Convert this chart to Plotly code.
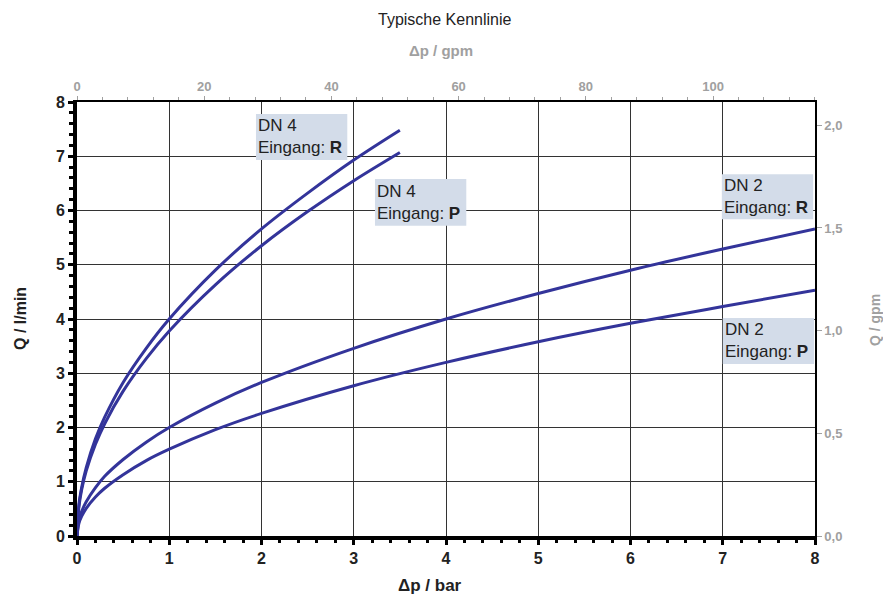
import plotly.graph_objects as go

# ---- data ----
dp_dn4 = [0, 0.02, 0.05, 0.1, 0.2, 0.3, 0.5, 0.75, 1.0, 1.5, 2.0, 2.5, 3.0, 3.5]
q_dn4_r = [0, 0.57, 0.89, 1.26, 1.79, 2.19, 2.83, 3.46, 4.0, 4.9, 5.66, 6.32, 6.93, 7.48]
q_dn4_p = [0, 0.53, 0.85, 1.20, 1.69, 2.07, 2.67, 3.27, 3.78, 4.63, 5.35, 5.98, 6.55, 7.07]

dp_dn2 = [0, 0.02, 0.05, 0.1, 0.2, 0.3, 0.5, 0.75, 1, 1.5, 2, 3, 4, 5, 6, 7, 8]
q_dn2_r = [0, 0.28, 0.45, 0.63, 0.89, 1.10, 1.41, 1.73, 2.0, 2.45, 2.83, 3.46, 4.0, 4.47, 4.90, 5.29, 5.66]
q_dn2_p = [0, 0.23, 0.36, 0.51, 0.72, 0.88, 1.13, 1.39, 1.6, 1.96, 2.26, 2.77, 3.2, 3.58, 3.92, 4.23, 4.53]

bar_ticks = [0, 1, 2, 3, 4, 5, 6, 7, 8]
lmin_ticks = [0, 1, 2, 3, 4, 5, 6, 7, 8]
psi_ticks = [0, 20, 40, 60, 80, 100]
gpm_tickvals = [0, 0.5, 1.0, 1.5, 2.0]
gpm_ticktext = ["0,0", "0,5", "1,0", "1,5", "2,0"]

labels = [
    ("DN 4<br>Eingang: <b>R</b>", 1.94, 2.93, 7.78, 6.93),
    ("DN 4<br>Eingang: <b>P</b>", 3.23, 4.22, 6.58, 5.72),
    ("DN 2<br>Eingang: <b>R</b>", 6.99, 7.98, 6.67, 5.84),
    ("DN 2<br>Eingang: <b>P</b>", 7.00, 7.99, 4.02, 3.17),
]

BAR_TO_PSI = 14.5038
LMIN_TO_GPM = 1 / 3.78541

LINE = "#33349a"
BOX = "#d3dce9"
GRAY = "#a0a0a0"
DARK = "#222222"
FONT = "Arial, Liberation Sans, sans-serif"

fig = go.Figure()
for xs, ys in [(dp_dn4, q_dn4_r), (dp_dn4, q_dn4_p), (dp_dn2, q_dn2_r), (dp_dn2, q_dn2_p)]:
    fig.add_trace(go.Scatter(x=xs, y=ys, mode="lines", line=dict(color=LINE, width=3, shape="spline"),
                             showlegend=False, hoverinfo="skip"))

# invisible trace to activate the secondary axes
fig.add_trace(go.Scatter(x=[0], y=[0], xaxis="x2", yaxis="y2", mode="markers",
                         marker=dict(opacity=0), showlegend=False, hoverinfo="skip"))

# page body has an 8px offset -> figure 883x589, plot area at page px 77..815 x 102..536
fig.update_layout(
    width=883, height=589,
    margin=dict(l=69, r=76, t=94, b=61),
    paper_bgcolor="white", plot_bgcolor="white",
    font=dict(family=FONT),
    xaxis=dict(range=[0, 8], tickvals=bar_ticks, showgrid=True, gridcolor="#333333", gridwidth=1,
               zeroline=False, showline=True, linecolor="black", linewidth=4,
               ticks="outside", ticklen=5, tickwidth=3, tickcolor="black",
               minor=dict(dtick=0.2, ticks="outside", ticklen=3, tickwidth=3, tickcolor="black", showgrid=False),
               tickfont=dict(size=16, color=DARK, family=FONT, weight="bold"), fixedrange=True),
    yaxis=dict(range=[0, 8], tickvals=lmin_ticks, showgrid=True, gridcolor="#333333", gridwidth=1,
               zeroline=False, showline=True, linecolor="black", linewidth=4,
               ticks="outside", ticklen=5, tickwidth=3, tickcolor="black",
               minor=dict(dtick=0.2, ticks="outside", ticklen=4, tickwidth=3, tickcolor="black", showgrid=False),
               tickfont=dict(size=16, color=DARK, family=FONT, weight="bold"), fixedrange=True),
    xaxis2=dict(range=[0, 8 * BAR_TO_PSI], overlaying="x", side="top", anchor="y",
                tickvals=psi_ticks, showgrid=False, zeroline=False, showline=True,
                linecolor="black", linewidth=1.5, ticks="outside", ticklen=4, tickwidth=1, tickcolor=GRAY,
                minor=dict(dtick=4, ticks="outside", ticklen=3, tickwidth=1, tickcolor=GRAY),
                tickfont=dict(size=13, color=GRAY, family=FONT, weight="bold"), fixedrange=True),
    yaxis2=dict(range=[0, 8 * LMIN_TO_GPM], overlaying="y", side="right", anchor="x",
                tickvals=gpm_tickvals, ticktext=gpm_ticktext, showgrid=False, zeroline=False,
                showline=True, linecolor="black", linewidth=1.5, ticks="outside", ticklen=5,
                tickwidth=1, tickcolor=GRAY,
                tickfont=dict(size=13, color=GRAY, family=FONT, weight="bold"), fixedrange=True),
)

shapes = []
annotations = []
for text, x0, x1, y0, y1 in labels:
    shapes.append(dict(type="rect", xref="x", yref="y", x0=x0, x1=x1, y0=y1, y1=y0,
                       fillcolor=BOX, line=dict(width=0), layer="above"))
    annotations.append(dict(text=text, xref="x", yref="y", x=x0, y=(y0 + y1) / 2,
                            xanchor="left", yanchor="middle", align="left", showarrow=False,
                            font=dict(size=17, color=DARK, family=FONT)))


def px(xp):
    return (xp - 77) / 738


def py(yp):
    return (536 - yp) / 434


def centered(text, x, y, size, color, angle=0):
    return dict(text=text, xref="paper", yref="paper", x=px(x), y=py(y), textangle=angle,
                xanchor="center", yanchor="middle", showarrow=False,
                font=dict(size=size, color=color, family=FONT))


annotations += [
    centered("Typische Kennlinie", 445, 19, 16, DARK),
    centered("<b>Δp / gpm</b>", 441, 50, 15, GRAY),
    centered("<b>Δp / bar</b>", 430, 585, 17, DARK),
    centered("<b>Q / l/min</b>", 20, 319, 16, DARK, -90),
    centered("<b>Q / gpm</b>", 875, 320, 14, GRAY, -90),
]
fig.update_layout(shapes=shapes, annotations=annotations)

fig.write_html("out.html")
